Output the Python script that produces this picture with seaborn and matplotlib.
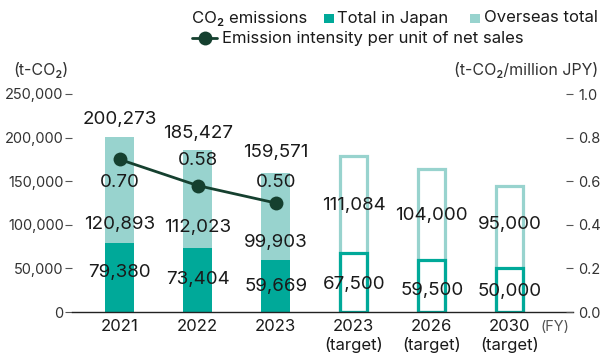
import matplotlib
matplotlib.use('Agg')
import matplotlib.pyplot as plt
import seaborn as sns
import pandas as pd
from matplotlib.patches import Rectangle
from matplotlib.lines import Line2D

# ---------------- data ----------------
years = ['2021', '2022', '2023', '2023\n(target)', '2026\n(target)', '2030\n(target)']
japan = [79380, 73404, 59669, 67500, 59500, 50000]
overseas = [120893, 112023, 99903, 111084, 104000, 95000]
totals_actual = [200273, 185427, 159571]
intensity = [0.70, 0.58, 0.50]
is_target = [False, False, False, True, True, True]
left_ticks = [0, 50000, 100000, 150000, 200000, 250000]
right_ticks = [0.0, 0.2, 0.4, 0.6, 0.8, 1.0]

# label anchor heights (data units)
japan_label_y = [45300, 37800, 29800, 32100, 25200, 23300]
overseas_label_y = [100900, 96600, 79500, 122100, 110100, 100100]
total_label_y = [220200, 204900, 183000]
intensity_label_y = [0.592, 0.694, 0.592]

TEAL = '#00a999'
LIGHT = '#98d3ce'
DARK = '#15402f'
TXT = '#1a1a1a'

sns.set_theme(style='white')
plt.rcParams['font.family'] = ['Inter', 'DejaVu Sans']

df = pd.DataFrame({'year': years, 'japan': japan, 'overseas': overseas, 'target': is_target})
df['total'] = df['japan'] + df['overseas']
act = df[~df['target']]
tgt = df[df['target']]

W, H = 602, 358
fig = plt.figure(figsize=(W / 100, H / 100), dpi=100)
ax = fig.add_axes([72 / W, 1 - 312 / H, (573 - 72) / W, (312 - 94) / H])

sns.barplot(data=act, x='year', y='total', order=years, color=LIGHT, saturation=1,
            width=0.372, errorbar=None, ax=ax, linewidth=0)
sns.barplot(data=act, x='year', y='japan', order=years, color=TEAL, saturation=1,
            width=0.372, errorbar=None, ax=ax, linewidth=0)
sns.barplot(data=tgt, x='year', y='total', order=years, color=LIGHT, saturation=1,
            width=0.345, errorbar=None, ax=ax, fill=False, linewidth=2.3)
sns.barplot(data=tgt, x='year', y='japan', order=years, color=TEAL, saturation=1,
            width=0.345, errorbar=None, ax=ax, fill=False, linewidth=2.3)

ax2 = ax.twinx()
sns.lineplot(x=list(range(len(intensity))), y=intensity, ax=ax2, color=DARK, linewidth=2,
             marker='o', markersize=10, markeredgewidth=0)

ax.set_ylim(0, 250000)
ax2.set_ylim(0, 1.0)
ax.set_xlim(-0.61, 5.81)

ax.set_yticks(left_ticks)
ax.set_yticklabels([f'{v:,}' for v in left_ticks])
ax2.set_yticks(right_ticks)
ax2.set_yticklabels([f'{v:.1f}' for v in right_ticks])
ax.set_xticks(range(len(years)))
ax.set_xticklabels(years, linespacing=1.2)

ax.tick_params(axis='y', left=True, length=5, width=0.8, color='#555', labelsize=10.5,
               labelcolor='#333', pad=1)
ax.tick_params(axis='x', bottom=False, length=0, labelsize=12, labelcolor=TXT, pad=5)
ax2.tick_params(axis='y', right=True, direction='in', length=5, width=0.8, color='#555',
                labelsize=10.5, labelcolor='#333', pad=4)

for a in (ax, ax2):
    a.set_xlabel('')
    a.set_ylabel('')
    for s in ('top', 'left', 'right'):
        a.spines[s].set_visible(False)
ax2.spines['bottom'].set_visible(False)
ax.spines['bottom'].set_color('#222')
ax.spines['bottom'].set_linewidth(1.0)

FS = 13.5
for i, v in enumerate(japan):
    ax.text(i, japan_label_y[i], f'{v:,}', ha='center', va='center', fontsize=FS, color=TXT)
for i, v in enumerate(overseas):
    ax.text(i, overseas_label_y[i], f'{v:,}', ha='center', va='center', fontsize=FS, color=TXT)
for i, v in enumerate(totals_actual):
    ax.text(i, total_label_y[i], f'{v:,}', ha='center', va='center', fontsize=FS, color=TXT)
for i, v in enumerate(intensity):
    ax2.text(i, intensity_label_y[i], f'{v:.2f}', ha='center', va='center', fontsize=FS, color=TXT)

# axis units
fig.text(13 / W, 1 - 70 / H, '(t-CO₂)', ha='left', va='center', fontsize=11.5, color='#333')
fig.text(598 / W, 1 - 70 / H, '(t-CO₂/million JPY)', ha='right', va='center', fontsize=11.5, color='#333')
fig.text(555 / W, 1 - 327 / H, '(FY)', ha='center', va='center', fontsize=10.5, color='#555')

# legend
LFS = 12
fig.text(192 / W, 1 - 18 / H, 'CO₂ emissions', ha='left', va='center', fontsize=LFS, color=TXT)
fig.patches.append(Rectangle((324 / W, 1 - 23 / H), 10 / W, 9 / H, transform=fig.transFigure,
                             facecolor=TEAL, edgecolor='none'))
fig.text(337 / W, 1 - 18 / H, 'Total in Japan', ha='left', va='center', fontsize=LFS, color=TXT)
fig.patches.append(Rectangle((470 / W, 1 - 23 / H), 10 / W, 9 / H, transform=fig.transFigure,
                             facecolor=LIGHT, edgecolor='none'))
fig.text(484 / W, 1 - 18 / H, 'Overseas total', ha='left', va='center', fontsize=LFS, color=TXT)
fig.lines.append(Line2D([192 / W, 217 / W], [1 - 38 / H, 1 - 38 / H], transform=fig.transFigure,
                        color=DARK, linewidth=2))
fig.lines.append(Line2D([205 / W], [1 - 38 / H], transform=fig.transFigure, color=DARK,
                        marker='o', markersize=10, markeredgewidth=0))
fig.text(222 / W, 1 - 38 / H, 'Emission intensity per unit of net sales', ha='left', va='center',
         fontsize=LFS, color=TXT)

fig.savefig('out.png', dpi=100)
